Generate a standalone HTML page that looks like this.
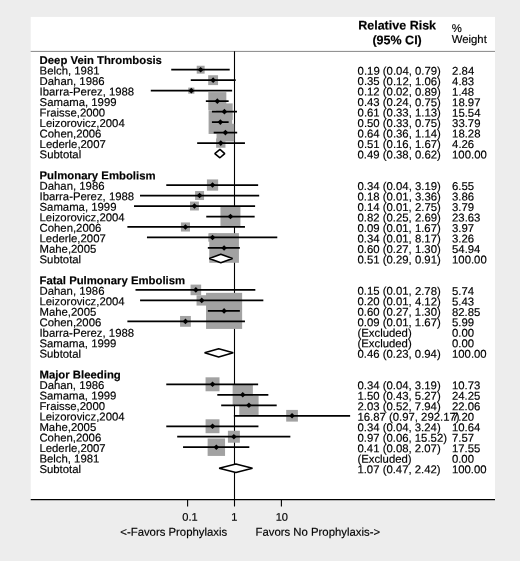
<!DOCTYPE html>
<html><head><meta charset="utf-8"><title>Forest plot</title>
<style>html,body{margin:0;padding:0;background:#ededed;}svg{display:block}text{white-space:pre}</style></head>
<body>
<svg width="520" height="561" viewBox="0 0 520 561" font-family="Liberation Sans, Arial, sans-serif" font-size="11.35" fill="#000">
<rect x="0" y="0" width="520" height="561" fill="#ededed"/>
<rect x="30.7" y="16.9" width="464.3" height="483.3" fill="#fff"/>
<g stroke="#000" stroke-width="1.1" fill="none">
<line x1="30.7" y1="51.4" x2="495" y2="51.4" stroke="#222" stroke-width="0.55"/>
<line x1="30.7" y1="499.6" x2="495" y2="499.6" stroke-width="1.2"/>
<line x1="234.5" y1="51.3" x2="234.5" y2="500"/>
<line x1="187.60" y1="500" x2="187.60" y2="506.5"/>
<line x1="234.50" y1="500" x2="234.50" y2="506.5"/>
<line x1="281.40" y1="500" x2="281.40" y2="506.5"/>
</g>
<g fill="#a2a2a2"><rect x="196.72" y="65.74" width="7.90" height="7.90"/><rect x="208.19" y="75.25" width="9.85" height="9.85"/><rect x="188.25" y="87.60" width="6.12" height="6.12"/><rect x="208.28" y="92.12" width="18.05" height="18.05"/><rect x="216.19" y="103.40" width="16.48" height="16.48"/><rect x="208.59" y="110.33" width="23.59" height="23.59"/><rect x="216.54" y="123.74" width="17.75" height="17.75"/><rect x="216.11" y="138.42" width="9.34" height="9.34"/><rect x="206.91" y="179.43" width="11.23" height="11.23"/><rect x="195.09" y="191.05" width="8.97" height="8.97"/><rect x="190.00" y="201.57" width="8.90" height="8.90"/><rect x="220.47" y="206.52" width="19.97" height="19.97"/><rect x="180.92" y="222.46" width="9.07" height="9.07"/><rect x="208.35" y="233.30" width="8.36" height="8.36"/><rect x="209.26" y="233.13" width="29.67" height="29.67"/><rect x="190.56" y="284.61" width="10.60" height="10.60"/><rect x="196.54" y="295.22" width="10.35" height="10.35"/><rect x="206.05" y="292.84" width="36.09" height="36.09"/><rect x="180.05" y="315.97" width="10.80" height="10.80"/><rect x="205.55" y="377.32" width="13.95" height="13.95"/><rect x="232.65" y="384.68" width="20.21" height="20.21"/><rect x="239.25" y="395.60" width="19.35" height="19.35"/><rect x="286.20" y="409.91" width="11.70" height="11.70"/><rect x="205.58" y="419.30" width="13.90" height="13.90"/><rect x="227.90" y="430.75" width="11.96" height="11.96"/><rect x="207.63" y="438.51" width="17.42" height="17.42"/></g>
<g stroke="#000" stroke-width="1.75"><line x1="171.24" y1="69.69" x2="229.70" y2="69.69"/><line x1="190.75" y1="80.17" x2="235.69" y2="80.17"/><line x1="150.78" y1="90.66" x2="232.13" y2="90.66"/><line x1="205.85" y1="101.15" x2="228.64" y2="101.15"/><line x1="211.92" y1="111.64" x2="236.99" y2="111.64"/><line x1="211.92" y1="122.12" x2="228.64" y2="122.12"/><line x1="213.69" y1="132.61" x2="237.17" y2="132.61"/><line x1="197.17" y1="143.10" x2="244.95" y2="143.10"/><line x1="166.27" y1="185.04" x2="258.13" y2="185.04"/><line x1="140.00" y1="195.53" x2="259.19" y2="195.53"/><line x1="134.01" y1="206.02" x2="255.10" y2="206.02"/><line x1="206.26" y1="216.50" x2="254.66" y2="216.50"/><line x1="127.38" y1="226.99" x2="244.95" y2="226.99"/><line x1="146.96" y1="237.48" x2="277.28" y2="237.48"/><line x1="207.83" y1="247.97" x2="239.84" y2="247.97"/><line x1="135.51" y1="289.91" x2="255.33" y2="289.91"/><line x1="140.08" y1="300.40" x2="263.34" y2="300.40"/><line x1="207.83" y1="310.89" x2="239.84" y2="310.89"/><line x1="127.38" y1="321.38" x2="244.95" y2="321.38"/><line x1="166.27" y1="384.30" x2="258.13" y2="384.30"/><line x1="217.31" y1="394.78" x2="268.35" y2="394.78"/><line x1="221.18" y1="405.27" x2="276.70" y2="405.27"/><line x1="233.88" y1="415.76" x2="350.14" y2="415.76"/><line x1="166.27" y1="426.25" x2="258.44" y2="426.25"/><line x1="177.20" y1="436.73" x2="290.35" y2="436.73"/><line x1="183.05" y1="447.22" x2="249.32" y2="447.22"/></g>
<g fill="#000"><path d="M197.87 69.69L200.67 66.89L203.47 69.69L200.67 72.49Z"/><path d="M210.32 80.17L213.12 77.37L215.92 80.17L213.12 82.97Z"/><path d="M188.51 90.66L191.31 87.86L194.11 90.66L191.31 93.46Z"/><path d="M214.51 101.15L217.31 98.35L220.11 101.15L217.31 103.95Z"/><path d="M221.63 111.64L224.43 108.84L227.23 111.64L224.43 114.44Z"/><path d="M217.58 122.12L220.38 119.32L223.18 122.12L220.38 124.92Z"/><path d="M222.61 132.61L225.41 129.81L228.21 132.61L225.41 135.41Z"/><path d="M217.99 143.10L220.79 140.30L223.59 143.10L220.79 145.90Z"/><path d="M209.73 185.04L212.53 182.24L215.33 185.04L212.53 187.84Z"/><path d="M196.77 195.53L199.57 192.73L202.37 195.53L199.57 198.33Z"/><path d="M191.65 206.02L194.45 203.22L197.25 206.02L194.45 208.82Z"/><path d="M227.66 216.50L230.46 213.70L233.26 216.50L230.46 219.31Z"/><path d="M182.65 226.99L185.45 224.19L188.25 226.99L185.45 229.79Z"/><path d="M209.73 237.48L212.53 234.68L215.33 237.48L212.53 240.28Z"/><path d="M221.30 247.97L224.10 245.17L226.90 247.97L224.10 250.77Z"/><path d="M193.06 289.91L195.86 287.11L198.66 289.91L195.86 292.71Z"/><path d="M198.92 300.40L201.72 297.60L204.52 300.40L201.72 303.20Z"/><path d="M221.30 310.89L224.10 308.09L226.90 310.89L224.10 313.69Z"/><path d="M182.65 321.38L185.45 318.57L188.25 321.38L185.45 324.18Z"/><path d="M209.73 384.30L212.53 381.50L215.33 384.30L212.53 387.10Z"/><path d="M239.96 394.78L242.76 391.98L245.56 394.78L242.76 397.58Z"/><path d="M246.12 405.27L248.92 402.47L251.72 405.27L248.92 408.07Z"/><path d="M289.25 415.76L292.05 412.96L294.85 415.76L292.05 418.56Z"/><path d="M209.73 426.25L212.53 423.44L215.33 426.25L212.53 429.05Z"/><path d="M231.08 436.73L233.88 433.93L236.68 436.73L233.88 439.53Z"/><path d="M213.54 447.22L216.34 444.42L219.14 447.22L216.34 450.02Z"/></g>
<g fill="#fff" stroke="#000" stroke-width="1.55" stroke-linejoin="bevel"><path d="M214.79 153.58L219.97 149.38L224.76 153.58L219.97 157.78Z"/><path d="M209.29 258.45L220.79 254.25L232.58 258.45L220.79 262.65Z"/><path d="M204.57 352.84L218.68 348.64L233.24 352.84L218.68 357.04Z"/><path d="M219.12 468.19L235.88 463.99L252.50 468.19L235.88 472.39Z"/></g>
<g transform="rotate(0.03 260 280)" stroke="#000" stroke-width="0.17"><text x="39.50" y="64.10" font-weight="bold">Deep Vein Thrombosis</text>
<text x="39.50" y="74.59">Belch, 1981</text>
<text x="357.50" y="74.59">0.19 (0.04, 0.79)</text>
<text x="452.00" y="74.59">2.84</text>
<text x="39.50" y="85.07">Dahan, 1986</text>
<text x="357.50" y="85.07">0.35 (0.12, 1.06)</text>
<text x="452.00" y="85.07">4.83</text>
<text x="39.50" y="95.56">Ibarra-Perez, 1988</text>
<text x="357.50" y="95.56">0.12 (0.02, 0.89)</text>
<text x="452.00" y="95.56">1.48</text>
<text x="39.50" y="106.05">Samama, 1999</text>
<text x="357.50" y="106.05">0.43 (0.24, 0.75)</text>
<text x="452.00" y="106.05">18.97</text>
<text x="39.50" y="116.54">Fraisse,2000</text>
<text x="357.50" y="116.54">0.61 (0.33, 1.13)</text>
<text x="452.00" y="116.54">15.54</text>
<text x="39.50" y="127.02">Leizorovicz,2004</text>
<text x="357.50" y="127.02">0.50 (0.33, 0.75)</text>
<text x="452.00" y="127.02">33.79</text>
<text x="39.50" y="137.51">Cohen,2006</text>
<text x="357.50" y="137.51">0.64 (0.36, 1.14)</text>
<text x="452.00" y="137.51">18.28</text>
<text x="39.50" y="148.00">Lederle,2007</text>
<text x="357.50" y="148.00">0.51 (0.16, 1.67)</text>
<text x="452.00" y="148.00">4.26</text>
<text x="39.50" y="158.48">Subtotal</text>
<text x="357.50" y="158.48">0.49 (0.38, 0.62)</text>
<text x="452.00" y="158.48">100.00</text>
<text x="39.50" y="179.46" font-weight="bold">Pulmonary Embolism</text>
<text x="39.50" y="189.94">Dahan, 1986</text>
<text x="357.50" y="189.94">0.34 (0.04, 3.19)</text>
<text x="452.00" y="189.94">6.55</text>
<text x="39.50" y="200.43">Ibarra-Perez, 1988</text>
<text x="357.50" y="200.43">0.18 (0.01, 3.36)</text>
<text x="452.00" y="200.43">3.86</text>
<text x="39.50" y="210.92">Samama, 1999</text>
<text x="357.50" y="210.92">0.14 (0.01, 2.75)</text>
<text x="452.00" y="210.92">3.79</text>
<text x="39.50" y="221.41">Leizorovicz,2004</text>
<text x="357.50" y="221.41">0.82 (0.25, 2.69)</text>
<text x="452.00" y="221.41">23.63</text>
<text x="39.50" y="231.89">Cohen,2006</text>
<text x="357.50" y="231.89">0.09 (0.01, 1.67)</text>
<text x="452.00" y="231.89">3.97</text>
<text x="39.50" y="242.38">Lederle,2007</text>
<text x="357.50" y="242.38">0.34 (0.01, 8.17)</text>
<text x="452.00" y="242.38">3.26</text>
<text x="39.50" y="252.87">Mahe,2005</text>
<text x="357.50" y="252.87">0.60 (0.27, 1.30)</text>
<text x="452.00" y="252.87">54.94</text>
<text x="39.50" y="263.35">Subtotal</text>
<text x="357.50" y="263.35">0.51 (0.29, 0.91)</text>
<text x="452.00" y="263.35">100.00</text>
<text x="39.50" y="284.33" font-weight="bold">Fatal Pulmonary Embolism</text>
<text x="39.50" y="294.81">Dahan, 1986</text>
<text x="357.50" y="294.81">0.15 (0.01, 2.78)</text>
<text x="452.00" y="294.81">5.74</text>
<text x="39.50" y="305.30">Leizorovicz,2004</text>
<text x="357.50" y="305.30">0.20 (0.01, 4.12)</text>
<text x="452.00" y="305.30">5.43</text>
<text x="39.50" y="315.79">Mahe,2005</text>
<text x="357.50" y="315.79">0.60 (0.27, 1.30)</text>
<text x="452.00" y="315.79">82.85</text>
<text x="39.50" y="326.27">Cohen,2006</text>
<text x="357.50" y="326.27">0.09 (0.01, 1.67)</text>
<text x="452.00" y="326.27">5.99</text>
<text x="39.50" y="336.76">Ibarra-Perez, 1988</text>
<text x="357.50" y="336.76">(Excluded)</text>
<text x="452.00" y="336.76">0.00</text>
<text x="39.50" y="347.25">Samama, 1999</text>
<text x="357.50" y="347.25">(Excluded)</text>
<text x="452.00" y="347.25">0.00</text>
<text x="39.50" y="357.74">Subtotal</text>
<text x="357.50" y="357.74">0.46 (0.23, 0.94)</text>
<text x="452.00" y="357.74">100.00</text>
<text x="39.50" y="378.71" font-weight="bold">Major Bleeding</text>
<text x="39.50" y="389.20">Dahan, 1986</text>
<text x="357.50" y="389.20">0.34 (0.04, 3.19)</text>
<text x="452.00" y="389.20">10.73</text>
<text x="39.50" y="399.68">Samama, 1999</text>
<text x="357.50" y="399.68">1.50 (0.43, 5.27)</text>
<text x="452.00" y="399.68">24.25</text>
<text x="39.50" y="410.17">Fraisse,2000</text>
<text x="357.50" y="410.17">2.03 (0.52, 7.94)</text>
<text x="452.00" y="410.17">22.06</text>
<text x="39.50" y="420.66">Leizorovicz,2004</text>
<text x="357.50" y="420.66">16.87 (0.97, 292.17)</text>
<text x="452.00" y="420.66">7.20</text>
<text x="39.50" y="431.14">Mahe,2005</text>
<text x="357.50" y="431.14">0.34 (0.04, 3.24)</text>
<text x="452.00" y="431.14">10.64</text>
<text x="39.50" y="441.63">Cohen,2006</text>
<text x="357.50" y="441.63">0.97 (0.06, 15.52)</text>
<text x="452.00" y="441.63">7.57</text>
<text x="39.50" y="452.12">Lederle,2007</text>
<text x="357.50" y="452.12">0.41 (0.08, 2.07)</text>
<text x="452.00" y="452.12">17.55</text>
<text x="39.50" y="462.61">Belch, 1981</text>
<text x="357.50" y="462.61">(Excluded)</text>
<text x="452.00" y="462.61">0.00</text>
<text x="39.50" y="473.09">Subtotal</text>
<text x="357.50" y="473.09">1.07 (0.47, 2.42)</text>
<text x="452.00" y="473.09">100.00</text>
<text x="397.00" y="29.40" font-size="12.5" font-weight="bold" text-anchor="middle">Relative Risk</text>
<text x="397.00" y="44.20" font-size="12.5" font-weight="bold" text-anchor="middle">(95% CI)</text>
<text x="451.60" y="31.90">%</text>
<text x="451.60" y="42.80">Weight</text>
<text x="190.20" y="520.70" font-size="11.1" text-anchor="middle">0.1</text>
<text x="234.50" y="520.70" font-size="11.1" text-anchor="middle">1</text>
<text x="282.00" y="520.70" font-size="11.1" text-anchor="middle">10</text>
<text x="227.30" y="535.80" text-anchor="end">&lt;-Favors Prophylaxis</text>
<text x="255.70" y="535.80">Favors No Prophylaxis-&gt;</text></g>
</svg>
</body></html>
